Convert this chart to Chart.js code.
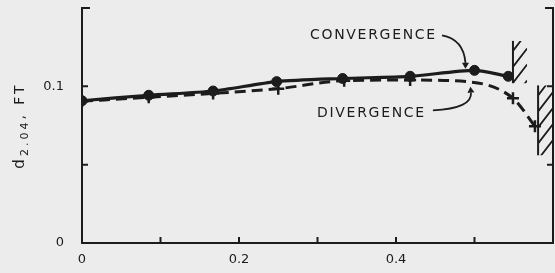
<!DOCTYPE html>
<html>
<head>
<meta charset="utf-8">
<style>
html, body { margin: 0; padding: 0; background: #ececec; overflow: hidden; }
#wrap { width: 555px; height: 273px; position: relative; }
#grafico { display: block; }
</style>
</head>
<body>
<div id="wrap"><canvas id="grafico"></canvas></div>
<script src="https://cdn.jsdelivr.net/npm/chart.js@4.4.1/dist/chart.umd.min.js"></script>
<script>
// values
const convX = [0, 0.085, 0.167, 0.248, 0.332, 0.418, 0.500, 0.543];
const convY = [0.0908, 0.0943, 0.0970, 0.1030, 0.1050, 0.1064, 0.1102, 0.1064];
const divX = [0, 0.085, 0.167, 0.250, 0.334, 0.418, 0.490, 0.549, 0.577];
const divY = [0.0905, 0.0930, 0.0955, 0.0985, 0.1036, 0.1040, 0.1030, 0.0924, 0.0745];
const divMarked = [true, true, true, true, true, true, false, true, true];
const xTicks = [0, 0.1, 0.2, 0.3, 0.4, 0.5, 0.6];
const xLabels = ['0', '', '0.2', '', '0.4', '', ''];
const yTicks = [0, 0.05, 0.1, 0.15];
const yLabels = ['0', '', '0.1', ''];

const ink = '#1c1c1c';
const fuente = '"DejaVu Sans", sans-serif';

// hatched walls, in data units
const paredes = [
    { x0: 0.549, x1: 0.567, y0: 0.1020, y1: 0.1290 },
    { x0: 0.581, x1: 0.600, y0: 0.0560, y1: 0.1006 }
];

function xy(xs, ys) {
    return xs.map(function (x, i) { return { x: x, y: ys[i] }; });
}

function sinPadding(s) {
    s.paddingTop = 0;
    s.paddingBottom = 0;
    s.paddingLeft = 0;
    s.paddingRight = 0;
}

const marco = {
    id: 'marco',
    beforeDraw: function (chart) {
        const ctx = chart.ctx;
        ctx.save();
        ctx.fillStyle = '#ececec';
        ctx.fillRect(0, 0, chart.width, chart.height);
        ctx.restore();
    },
    afterDraw: function (chart) {
        const ctx = chart.ctx;
        const a = chart.chartArea;
        const sx = chart.scales.x, sy = chart.scales.y;
        const px = function (v) { return sx.getPixelForValue(v); };
        const py = function (v) { return sy.getPixelForValue(v); };

        ctx.save();
        ctx.strokeStyle = ink;
        ctx.fillStyle = ink;
        ctx.lineWidth = 2;
        ctx.lineCap = 'butt';

        // frame: left, bottom, right (no top)
        ctx.beginPath();
        ctx.moveTo(a.left + 8, a.top);
        ctx.lineTo(a.left, a.top);
        ctx.lineTo(a.left, a.bottom);
        ctx.lineTo(a.right, a.bottom);
        ctx.lineTo(a.right, a.top);
        ctx.lineTo(a.right - 8, a.top);
        ctx.stroke();

        // inward ticks
        ctx.beginPath();
        yTicks.forEach(function (v) {
            if (v <= 0 || v >= 0.15) return;
            ctx.moveTo(a.left, py(v)); ctx.lineTo(a.left + 6, py(v));
            ctx.moveTo(a.right, py(v)); ctx.lineTo(a.right - 6, py(v));
        });
        xTicks.forEach(function (v) {
            if (v <= 0 || v >= 0.6) return;
            ctx.moveTo(px(v), a.bottom); ctx.lineTo(px(v), a.bottom - 6);
        });
        ctx.stroke();

        // walls
        paredes.forEach(function (p) {
            const l = px(p.x0), r = px(p.x1), t = py(p.y1), b = py(p.y0);
            ctx.beginPath();
            ctx.moveTo(l, t); ctx.lineTo(l, b);
            ctx.stroke();
            ctx.save();
            ctx.beginPath();
            ctx.rect(l, t, r - l, b - t);
            ctx.clip();
            ctx.lineWidth = 1.8;
            ctx.beginPath();
            for (let y = t + 10; y < b + (r - l) + 14; y += 16) {
                ctx.moveTo(l, y);
                ctx.lineTo(r, y - (r - l) * 1.3);
            }
            ctx.stroke();
            ctx.restore();
        });

        // annotations
        ctx.font = '14px ' + fuente;
        ctx.letterSpacing = '1.7px';
        ctx.textBaseline = 'middle';
        ctx.textAlign = 'left';
        ctx.fillText('CONVERGENCE', px(0.2904), py(0.1325));
        ctx.fillText('DIVERGENCE', px(0.2994), py(0.0828));
        ctx.letterSpacing = '0px';

        ctx.lineWidth = 1.8;
        ctx.beginPath();
        ctx.moveTo(px(0.4586), py(0.1325));
        ctx.quadraticCurveTo(px(0.486), py(0.1300), px(0.4885), py(0.1150));
        ctx.stroke();
        flecha(ctx, px(0.4885), py(0.1150), 0, 1);

        ctx.beginPath();
        ctx.moveTo(px(0.447), py(0.0847));
        ctx.quadraticCurveTo(px(0.4975), py(0.0860), px(0.4955), py(0.0960));
        ctx.stroke();
        flecha(ctx, px(0.4955), py(0.0960), -0.1, -1);

        // y title with subscript
        ctx.save();
        ctx.translate(24, (a.top + a.bottom) / 2);
        ctx.rotate(-Math.PI / 2);
        ctx.textBaseline = 'alphabetic';
        ctx.letterSpacing = '3px';
        const partes = [['d', 15, 0], ['2.04', 11, 4], [', FT', 14, 0]];
        let total = 0;
        partes.forEach(function (p) {
            ctx.font = p[1] + 'px ' + fuente;
            total += ctx.measureText(p[0]).width;
        });
        let cx = -total / 2;
        partes.forEach(function (p) {
            ctx.font = p[1] + 'px ' + fuente;
            ctx.fillText(p[0], cx, p[2]);
            cx += ctx.measureText(p[0]).width;
        });
        ctx.restore();

        ctx.restore();
    }
};

function flecha(ctx, x, y, dx, dy) {
    const len = Math.hypot(dx, dy);
    const ux = dx / len, uy = dy / len;
    ctx.beginPath();
    ctx.moveTo(x + ux * 6, y + uy * 6);
    ctx.lineTo(x - uy * 3.5, y + ux * 3.5);
    ctx.lineTo(x + uy * 3.5, y - ux * 3.5);
    ctx.closePath();
    ctx.fill();
}

window.addEventListener('load', function () {
    const ctxGrafico = document.getElementById('grafico');

    new Chart(ctxGrafico, {
        type: 'line',
        data: {
            datasets: [{
                label: 'CONVERGENCE',
                data: xy(convX, convY),
                borderColor: ink,
                backgroundColor: ink,
                borderWidth: 3.2,
                pointStyle: 'circle',
                pointRadius: 5,
                pointBorderWidth: 1,
                tension: 0.25
            }, {
                label: 'DIVERGENCE',
                data: xy(divX, divY),
                borderColor: ink,
                backgroundColor: ink,
                borderWidth: 3,
                borderDash: [11, 6],
                pointStyle: 'cross',
                pointRadius: divMarked.map(function (m) { return m ? 6 : 0; }),
                pointBorderWidth: 2.5,
                cubicInterpolationMode: 'monotone'
            }]
        },
        options: {
            responsive: true,
            maintainAspectRatio: false,
            animation: false,
            layout: { autoPadding: false, padding: { top: 8, right: 2, left: 0, bottom: 0 } },
            plugins: {
                legend: { display: false },
                tooltip: { enabled: false }
            },
            scales: {
                x: {
                    type: 'linear',
                    min: 0,
                    max: 0.6,
                    grid: { display: false, drawTicks: false },
                    border: { display: false },
                    afterBuildTicks: function (s) { s.ticks = xTicks.map(function (v) { return { value: v }; }); },
                    afterFit: function (s) { s.height = 30; sinPadding(s); },
                    ticks: {
                        padding: 9,
                        maxRotation: 0,
                        autoSkip: false,
                        color: ink,
                        font: { family: fuente, size: 13 },
                        callback: function (v, i) { return xLabels[i]; }
                    }
                },
                y: {
                    min: 0,
                    max: 0.15,
                    grid: { display: false, drawTicks: false },
                    border: { display: false },
                    afterBuildTicks: function (s) { s.ticks = yTicks.map(function (v) { return { value: v }; }); },
                    afterFit: function (s) { s.width = 82; sinPadding(s); },
                    ticks: {
                        padding: 18,
                        autoSkip: false,
                        color: ink,
                        font: { family: fuente, size: 13 },
                        callback: function (v, i) { return yLabels[i]; }
                    }
                }
            }
        },
        plugins: [marco]
    });
});
</script>
</body>
</html>
